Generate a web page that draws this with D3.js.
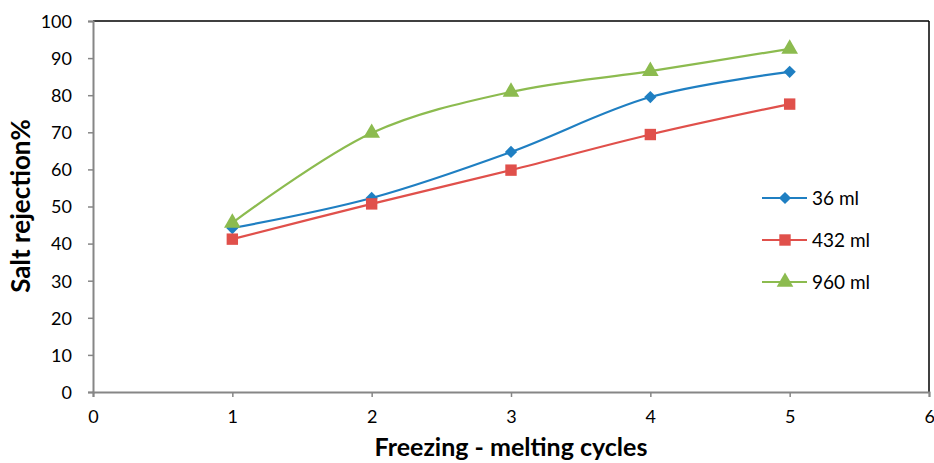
<!DOCTYPE html>
<html>
<head>
<meta charset="UTF-8">
<style>
  body { margin: 0; background: #fff; }
  text { font-family: Lato, "Open Sans", sans-serif; fill: #000; }
</style>
</head>
<body>
<svg id="chart" width="934" height="463"></svg>
<script src="https://d3js.org/d3.v7.min.js"></script>
<script>
// data
const cycles = [1, 2, 3, 4, 5];
const s36 = [44.2, 52.3, 64.7, 79.5, 86.3];
const s432 = [41.2, 50.7, 59.8, 69.4, 77.6];
const s960 = [45.6, 69.8, 80.9, 86.5, 92.5];
const xTicks = [0, 1, 2, 3, 4, 5, 6];
const yTicks = [0, 10, 20, 30, 40, 50, 60, 70, 80, 90, 100];

// diamond = square turned 45 degrees (Excel style)
const series = [
  { name: "36 ml", values: s36, color: "#1f7fc2", shape: d3.symbolSquare, size: 75, rot: 45 },
  { name: "432 ml", values: s432, color: "#e0504b", shape: d3.symbolSquare, size: 130, rot: 0 },
  { name: "960 ml", values: s960, color: "#8cbb4f", shape: d3.symbolTriangle, size: 120, rot: 0 }
];

const svg = d3.select("#chart");
const x = d3.scaleLinear().domain([0, 6]).range([93, 929]);
const y = d3.scaleLinear().domain([0, 100]).range([392, 21]);

// frame top/right (black)
svg.append("line").attr("x1", x(0)).attr("x2", x(6)).attr("y1", y(100)).attr("y2", y(100))
  .attr("stroke", "#000").attr("stroke-width", 1.5);
svg.append("line").attr("x1", x(6)).attr("x2", x(6)).attr("y1", y(100)).attr("y2", y(0))
  .attr("stroke", "#000").attr("stroke-width", 1.5);

// axes
const yAxis = svg.append("g").attr("transform", `translate(${x(0)},0)`)
  .call(d3.axisLeft(y).tickValues(yTicks).tickSize(5).tickPadding(16).tickFormat(d3.format("d")));
const xAxis = svg.append("g").attr("transform", `translate(0,${y(0)})`)
  .call(d3.axisBottom(x).tickValues(xTicks).tickSize(5).tickPadding(13).tickFormat(d3.format("d")));
[xAxis, yAxis].forEach(g => {
  g.select(".domain").attr("stroke", "#868686").attr("stroke-width", 2);
  g.selectAll(".tick line").attr("stroke", "#868686").attr("stroke-width", 1.5);
  g.selectAll(".tick text").attr("font-size", 18).attr("font-family", "Lato, sans-serif").attr("fill", "#000");
});
yAxis.selectAll(".tick text").attr("dy", "0.35em");
// last x label sits on the edge as in the original
xAxis.selectAll(".tick text").filter(d => d === 6).attr("text-anchor", "start").attr("dx", -5);

// axis titles
svg.append("text").attr("x", 511).attr("y", 456).attr("text-anchor", "middle")
  .attr("font-size", 25).attr("font-weight", "bold").text("Freezing - melting cycles");
svg.append("text").attr("transform", "translate(30,206) rotate(-90)").attr("text-anchor", "middle")
  .attr("font-size", 26).attr("font-weight", "bold").text("Salt rejection%");

// lines + markers
const line = d3.line().x((d, i) => x(cycles[i])).y(d => y(d)).curve(d3.curveCatmullRom.alpha(0.5));
series.forEach(s => {
  svg.append("path").datum(s.values).attr("d", line)
    .attr("fill", "none").attr("stroke", s.color).attr("stroke-width", 2.2);
});
series.forEach(s => {
  svg.append("g").selectAll("path").data(s.values).enter().append("path")
    .attr("d", d3.symbol().type(s.shape).size(s.size))
    .attr("transform", (d, i) => `translate(${x(cycles[i])},${y(d)}) rotate(${s.rot})`)
    .attr("fill", s.color);
});

// legend
const legend = svg.append("g");
series.forEach((s, i) => {
  const ly = 198 + i * 42;
  legend.append("line").attr("x1", 762).attr("x2", 807).attr("y1", ly).attr("y2", ly)
    .attr("stroke", s.color).attr("stroke-width", 2.2);
  legend.append("path").attr("d", d3.symbol().type(s.shape).size(s.size))
    .attr("transform", `translate(785,${ly}) rotate(${s.rot})`).attr("fill", s.color);
  legend.append("text").attr("x", 812).attr("y", ly).attr("dy", "0.35em")
    .attr("font-size", 19).text(s.name);
});
</script>
</body>
</html>
